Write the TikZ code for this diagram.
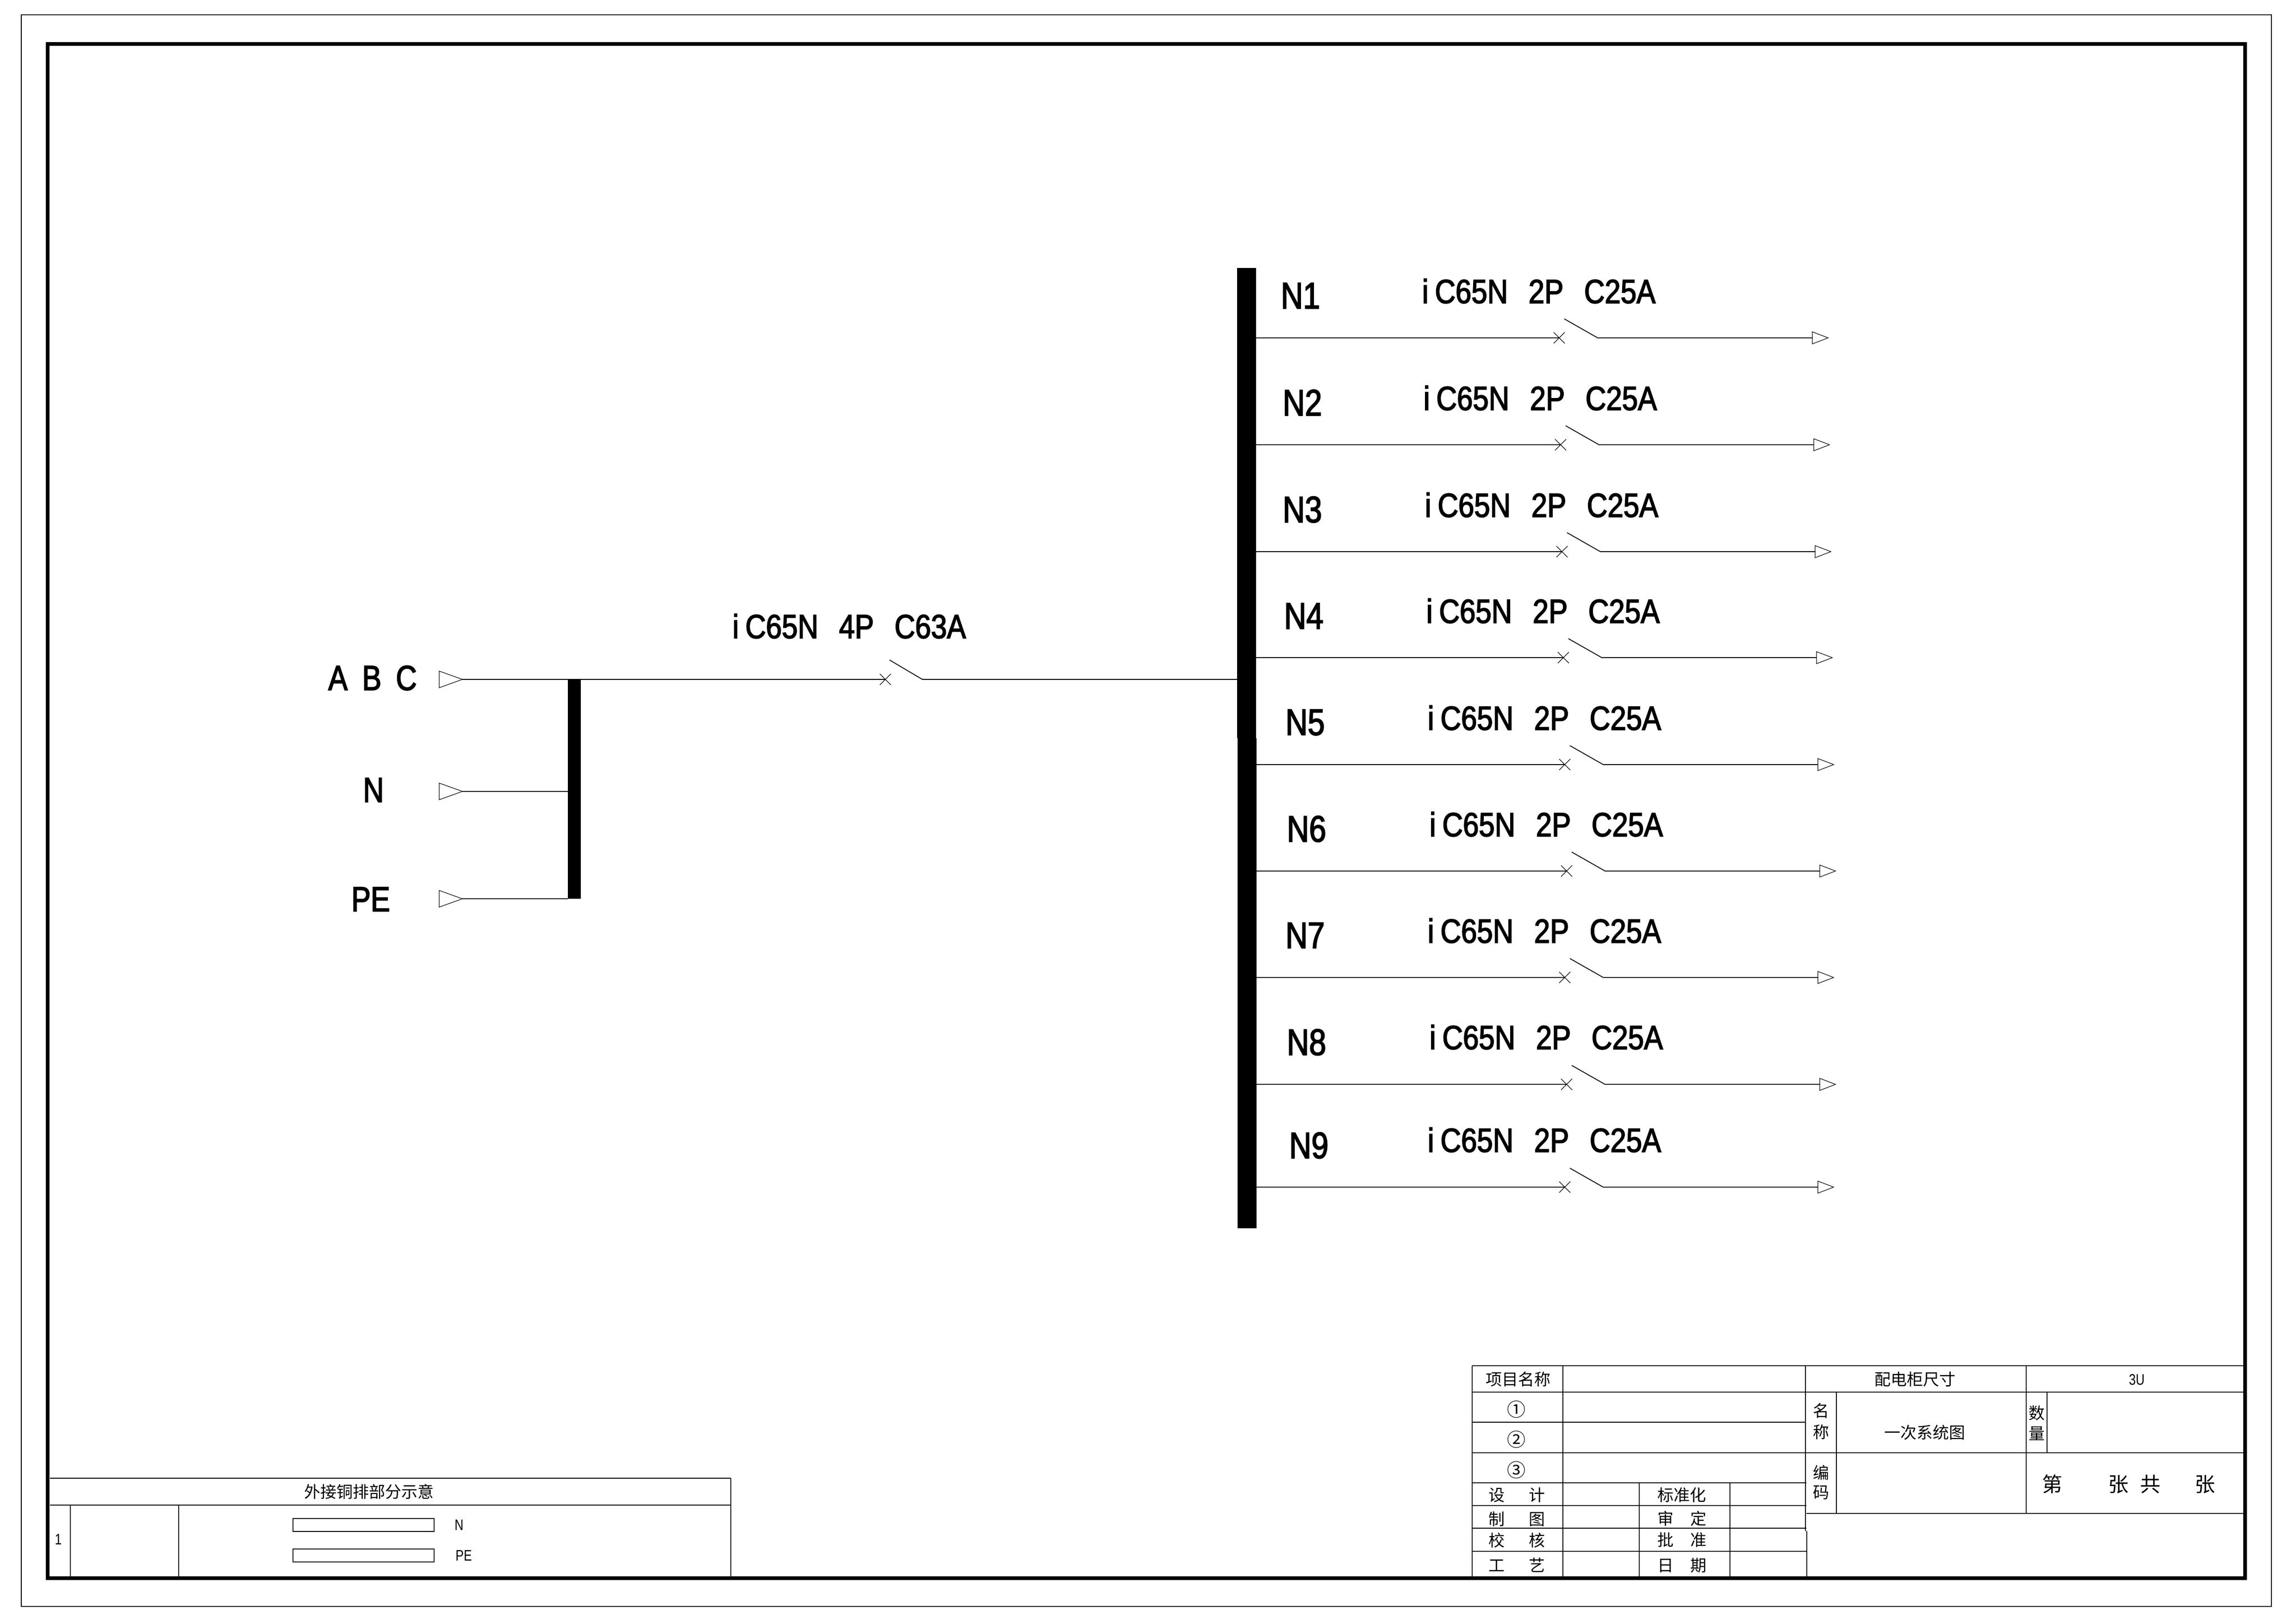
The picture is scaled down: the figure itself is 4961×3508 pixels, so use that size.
\documentclass[tikz,border=0pt]{standalone}
\usepackage{fontspec}
\usetikzlibrary{shapes.geometric,shapes.misc}
\newfontfamily\cadfont[FakeStretch=0.85,WordSpace=2.6,FakeBold=2.5]{Liberation Sans}
\newfontfamily\cadtight[FakeStretch=0.83,WordSpace=1.8,FakeBold=2.5]{Liberation Sans}
\newfontfamily\cadsmall[FakeStretch=0.8]{Liberation Sans}
\newfontfamily\cjk{Noto Sans CJK SC}
\tikzset{
  every node/.style={inner sep=0pt,outer sep=0pt},
  wire/.style={line width=0.9pt},
  rule/.style={line width=0.9pt},
  hairline/.style={line width=0.6pt},
  rating/.style={font=\cadfont\fontsize{36.3}{36.3}\selectfont},
  feeder/.style={font=\cadtight\fontsize{40}{40}\selectfont},
  source/.style={font=\cadtight\fontsize{37.7}{37.7}\selectfont},
  small/.style={font=\cadsmall\fontsize{16.5}{16.5}\selectfont},
  hanzi/.style={font=\cjk\fontsize{17.5}{17.5}\selectfont},
  circled/.style={font=\cjk\fontsize{20}{20}\selectfont},
  bighanzi/.style={font=\cjk\fontsize{22}{22}\selectfont},
  busbar/.style={fill=black,minimum width=#1,anchor=north},
  inmark/.style={isosceles triangle,isosceles triangle stretches,shape border rotate=0,
    draw,hairline,minimum height=25pt,minimum width=18pt,anchor=apex},
  outmark/.style={isosceles triangle,isosceles triangle stretches,shape border rotate=0,
    draw,hairline,minimum height=17pt,minimum width=13pt,anchor=apex},
  tripcross/.style={cross out,draw,hairline,minimum size=12pt}
}
\begin{document}
\begin{tikzpicture}[x=0.5pt,y=-0.5pt]
      \useasboundingbox (0,0) rectangle (4961,3508);
      \draw[rule] (46,32) rectangle (4908,3471);
      \draw[line width=4pt,line join=miter] (103,95) rectangle (4851,3410);
      \draw
        (805,1465) node[source] (abc){A B C}
        (807,1707) node[source] (nin){N}
        (801,1943) node[source] (pein){PE}
        (1835,1353) node[rating] (qmain){i\kern7pt C65N 4P C63A}
        (2810,639) node[feeder] (n1){N1}
        (2814,870) node[feeder] (n2){N2}
        (2814,1101) node[feeder] (n3){N3}
        (2817,1331) node[feeder] (n4){N4}
        (2820,1561) node[feeder] (n5){N5}
        (2823,1791) node[feeder] (n6){N6}
        (2820,2021) node[feeder] (n7){N7}
        (2823,2252) node[feeder] (n8){N8}
        (2828,2475) node[feeder] (n9){N9}
        (3325,629) node[rating] (q1){i\kern7pt C65N 2P C25A}
        (3328,860) node[rating] (q2){i\kern7pt C65N 2P C25A}
        (3331,1091) node[rating] (q3){i\kern7pt C65N 2P C25A}
        (3334,1320) node[rating] (q4){i\kern7pt C65N 2P C25A}
        (3337,1551) node[rating] (q5){i\kern7pt C65N 2P C25A}
        (3341,1781) node[rating] (q6){i\kern7pt C65N 2P C25A}
        (3337,2011) node[rating] (q7){i\kern7pt C65N 2P C25A}
        (3341,2241) node[rating] (q8){i\kern7pt C65N 2P C25A}
        (3337,2463) node[rating] (q9){i\kern7pt C65N 2P C25A};
      \node[busbar=14pt,minimum height=237pt] (barin) at (1241,1468) {};
      \node[busbar=20.5pt,minimum height=508pt] (bartop) at (2693.5,579) {};
      \node[busbar=20.5pt,minimum height=529.5pt] (barlow) at (2694.5,1595) {};
      \node[inmark] (tabc) at (999,1468) {};
      \node[inmark] (tn) at (999,1710) {};
      \node[inmark] (tpe) at (999,1942) {};
      \node[tripcross] (xmain) at (1913,1468) {};
      \coordinate (bmain) at (1922,1426);
      \coordinate (kmain) at (1993,1468);
      \coordinate (bustap) at (2673,1468);
      \begin{scope}[wire]
        \draw (tabc.apex) -- (xmain.center);
        \draw (tn.apex) -- (barin.west |- tn.apex);
        \draw (tpe.apex) -- (barin.west |- tpe.apex);
        \draw (bmain) -- (kmain) -- (bustap);
      \end{scope}
      \foreach \row/\ry/\dx in {1/730/0,2/961/3,3/1192/6,4/1421/9,5/1652/12,6/1882/16,7/2112/12,8/2343/16,9/2565/12}{
        \node[tripcross] (x\row) at (3369+\dx,\ry) {};
        \node[outmark] (t\row) at (3950+\dx,\ry) {};
        \coordinate (s\row) at (2714,\ry);
        \coordinate (b\row) at (3380+\dx,\ry-41);
        \coordinate (k\row) at (3452+\dx,\ry);
        \draw[wire] (s\row) -- (x\row.center);
        \draw[wire] (b\row) -- (k\row) -- (t\row.lower side);
      }
      \begin{scope}[rule]
        \draw (108,3194) -- (1579,3194);
        \draw (108,3252) -- (1579,3252);
        \draw (1579,3194) -- (1579,3406);
        \draw (152,3252) -- (152,3406);
        \draw (386,3252) -- (386,3406);
        \draw (633,3281) rectangle (938,3309);
        \draw (633,3347) rectangle (938,3375);
        \draw (3181,2951) -- (4851,2951);
        \draw (3181,3008) -- (4851,3008);
        \draw (3181,3073) -- (3901,3073);
        \draw (3181,3139) -- (4851,3139);
        \draw (3181,3204) -- (3903,3204);
        \draw (3181,3253) -- (3903,3253);
        \draw (3181,3302) -- (3903,3302);
        \draw (3181,3352) -- (3904,3352);
        \draw (3903,3270) -- (4851,3270);
        \draw (3181,2951) -- (3181,3406);
        \draw (3377,2951) -- (3377,3406);
        \draw (3901,2951) -- (3901,3308);
        \draw (3904,3308) -- (3904,3406);
        \draw (3542,3204) -- (3542,3406);
        \draw (3738,3204) -- (3738,3406);
        \draw (3968,3008) -- (3968,3270);
        \draw (4378,2951) -- (4378,3270);
        \draw (4423,3008) -- (4423,3139);
      \end{scope}
      \draw
        (797,3223) node[hanzi] (tcu){外接铜排部分示意}
        (992,3295) node[small] (ln){N}
        (1002,3361) node[small] (lpe){PE}
        (126,3326) node[small] (lone){1}
        (3280,2980) node[hanzi] (lxm){项目名称}
        (4138,2980) node[hanzi] (lsize){配电柜尺寸}
        (4617,2981) node[small] (l3u){3U}
        (3276,3045) node[circled] (c1){①}
        (3276,3110) node[circled] (c2){②}
        (3276,3176) node[circled] (c3){③}
        (3935,3048) node[hanzi] (lm1){名}
        (3935,3094) node[hanzi] (lm2){称}
        (4159,3095) node[hanzi] (ltitle){一次系统图}
        (4401,3053) node[hanzi] (ls1){数}
        (4401,3097) node[hanzi] (ls2){量}
        (3935,3182) node[hanzi] (lb1){编}
        (3935,3225) node[hanzi] (lb2){码}
        (4599,3207) node[bighanzi] (lpage){第\hspace{49.5pt}张\hspace{12.5pt}共\hspace{37pt}张}
        (3277,3230) node[hanzi] (ld){设\hspace{26pt}计}
        (3277,3282) node[hanzi] (lz){制\hspace{26pt}图}
        (3277,3328) node[hanzi] (lj){校\hspace{26pt}核}
        (3277,3382) node[hanzi] (lg){工\hspace{26pt}艺}
        (3634,3230) node[hanzi] (lbz){标准化}
        (3634,3281) node[hanzi] (lsd){审\hspace{18pt}定}
        (3634,3327) node[hanzi] (lpz){批\hspace{18pt}准}
        (3634,3382) node[hanzi] (lrq){日\hspace{18pt}期};
    \end{tikzpicture}
\end{document}
